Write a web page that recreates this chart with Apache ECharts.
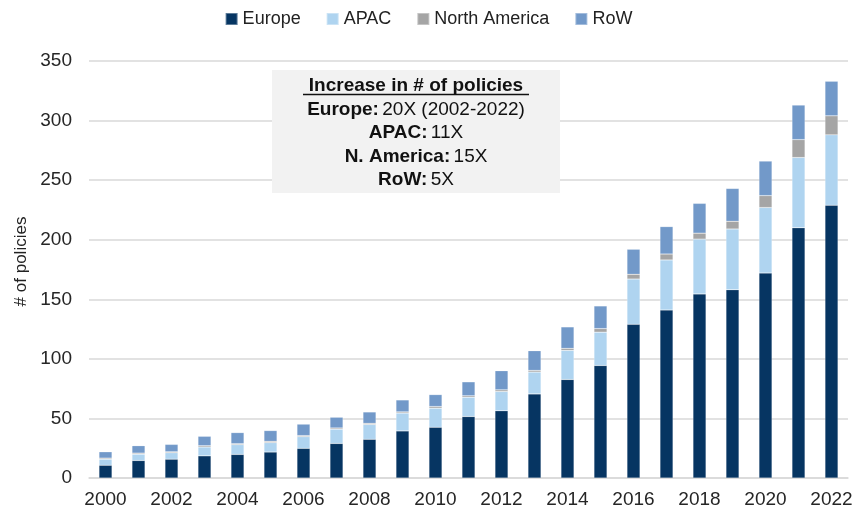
<!DOCTYPE html>
<html>
<head>
<meta charset="utf-8">
<script src="https://cdn.jsdelivr.net/npm/echarts@6/dist/echarts.min.js"></script>
<style>
  html, body { margin: 0; padding: 0; background: #fff; }
  #chart { width: 857px; height: 511px; }
</style>
</head>
<body>
<div id="chart"></div>
<script>
const years = ["2000", "2001", "2002", "2003", "2004", "2005", "2006", "2007", "2008", "2009", "2010", "2011",
  "2012", "2013", "2014", "2015", "2016", "2017", "2018", "2019", "2020", "2021", "2022"];
const europe = [10.7, 14.7, 15.8, 18.6, 19.8, 21.8, 24.9, 29, 32.5, 39.5, 42.6, 51.6,
  56.4, 70.6, 82.7, 94.4, 129, 141, 154.5, 158, 172, 210, 229];
const apac = [5.1, 5.3, 5.4, 7.4, 8.2, 7.9, 9.8, 12, 12.4, 15, 16, 16.2,
  16.2, 18.3, 24.4, 28, 38, 42, 46, 51, 55, 59, 59];
const northAmerica = [0.9, 0.9, 0.8, 1.1, 0.8, 1.1, 0.9, 1, 1, 1, 1.4, 1.2,
  1.4, 1.4, 1.7, 3, 4, 5, 5, 6.5, 10, 15, 16];
const row = [5.3, 6.2, 6.2, 7.9, 9.3, 9, 9.6, 9, 9.5, 10, 10, 11.7,
  16, 16.5, 18, 19, 21, 23, 25, 27.5, 29, 29, 29];

const noteTitle = "Increase in # of policies";
const noteLines = [
  ["Europe:", "20X (2002-2022)"],
  ["APAC:", "11X"],
  ["N. America:", "15X"],
  ["RoW:", "5X"]
];

const FONT = "Liberation Sans, Arial, sans-serif";
const colors = { europe: "#063562", apac: "#afd4f0", na: "#a5a5a5", row: "#7299c9" };

function bar(name, data, color) {
  return {
    name, type: "bar", stack: "total", data, barWidth: 13,
    itemStyle: { color, borderColor: "rgba(255,255,255,0.35)", borderWidth: 0.5 }
  };
}

const chart = echarts.init(document.getElementById("chart"));

// annotation box (drawn above the grid lines)
const boxX = 272, boxY = 70, boxW = 288, boxH = 123;
const noteEls = [
  { type: "rect", z: 100, shape: { x: 0, y: 0, width: boxW, height: boxH }, style: { fill: "#f2f2f2" } },
  {
    type: "text", z: 101, x: boxW / 2, y: 16,
    style: { text: noteTitle, font: "bold 19px " + FONT, fill: "#111", align: "center", verticalAlign: "middle",
      textAlign: "center", textVerticalAlign: "middle" }
  },
  { type: "line", z: 101, shape: { x1: boxW / 2 - 113, y1: 24.5, x2: boxW / 2 + 113, y2: 24.5 }, style: { stroke: "#111", lineWidth: 1.5 } }
];
noteLines.forEach((l, i) => {
  noteEls.push({
    type: "text", z: 101, x: boxW / 2, y: 39.5 + i * 23.5,
    style: {
      text: "{b|" + l[0] + "} {r|" + l[1] + "}",
      rich: {
        b: { font: "bold 19px " + FONT, fill: "#111" },
        r: { font: "19px " + FONT, fill: "#111" }
      },
      align: "center", verticalAlign: "middle", textAlign: "center", textVerticalAlign: "middle"
    }
  });
});

chart.setOption({
  animation: false,
  textStyle: { fontFamily: FONT },
  legend: {
    top: 5, left: "center",
    itemWidth: 12, itemHeight: 12, itemGap: 25,
    icon: "rect",
    textStyle: { fontSize: 18, color: "#222", fontFamily: FONT },
    data: ["Europe", "APAC", "North America", "RoW"]
  },
  grid: { left: 89, right: 9, top: 61, bottom: 33 },
  xAxis: {
    type: "category",
    data: years,
    axisTick: { show: false },
    axisLine: { lineStyle: { color: "#d9d9d9", width: 1.5 } },
    axisLabel: { interval: 1, fontSize: 19, color: "#262626", margin: 12 }
  },
  yAxis: {
    type: "value",
    min: 0, max: 350, interval: 50,
    name: "# of policies",
    nameLocation: "middle",
    nameGap: 58,
    nameTextStyle: { fontSize: 17, color: "#222", padding: [0, 0, 0, 16] },
    axisLabel: { fontSize: 19, color: "#262626", margin: 17 },
    axisLine: { show: false },
    axisTick: { show: false },
    splitLine: { lineStyle: { color: "#d9d9d9", width: 1.5 } }
  },
  series: [
    bar("Europe", europe, colors.europe),
    bar("APAC", apac, colors.apac),
    bar("North America", northAmerica, colors.na),
    bar("RoW", row, colors.row)
  ],
  graphic: [{ type: "group", x: boxX, y: boxY, children: noteEls }]
});
</script>
</body>
</html>
